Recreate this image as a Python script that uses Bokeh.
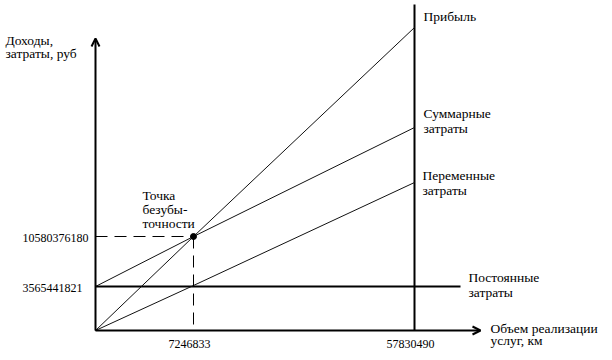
from bokeh.plotting import figure
from bokeh.models import Range1d, Arrow, OpenHead
from bokeh.core.properties import value
from bokeh.embed import file_html
from bokeh.resources import INLINE

# ---- values printed on the diagram ----
volume_values = [7246833, 57830490]        # объем реализации, км
cost_values = [3565441821, 10580376180]    # руб

# ---- schematic (not to scale) diagram values, diagram units ----
volume_pos = [98, 319]           # break-even volume, max volume
cost_pos = [44, 94]              # fixed costs, break-even revenue
line_x = [0, 98, 319]
revenue = [0, 94, 303]           # Прибыль (доходы)
total_costs = [44, 94, 203]      # Суммарные затраты
variable_costs = [0, 45, 148]    # Переменные затраты
fixed_costs = 44                 # Постоянные затраты
fixed_end = 365
axis_x_end = 385
axis_y_end = 292
vline_top = 326

FONT = "Liberation Serif"
WORD_SIZE = "13.5px"

p = figure(width=612, height=360, output_backend="svg", toolbar_location=None,
           x_range=Range1d(-95, 517), y_range=Range1d(-30, 330),
           x_axis_location=None, y_axis_location=None,
           min_border_left=0, min_border_right=0, min_border_top=0, min_border_bottom=0)
p.outline_line_color = None
p.grid.visible = False
p.background_fill_color = "white"
p.border_fill_color = "white"

# axes with arrow heads
for xs, ys, xe, ye in [(0, 0, axis_x_end, 0), (0, 0, 0, axis_y_end)]:
    p.add_layout(Arrow(end=OpenHead(size=8, line_width=2, line_color="black"),
                       x_start=xs, y_start=ys, x_end=xe, y_end=ye,
                       line_width=2, line_color="black"))

# thick lines: fixed costs and max volume
p.segment(x0=[0], y0=[fixed_costs], x1=[fixed_end], y1=[fixed_costs], line_width=2, line_color="black")
p.segment(x0=[volume_pos[1]], y0=[0], x1=[volume_pos[1]], y1=[vline_top], line_width=2, line_color="black")

# thin lines
p.line(line_x, revenue, line_width=1, line_color="#111111")
p.line(line_x, total_costs, line_width=1, line_color="#111111")
p.line(line_x, variable_costs, line_width=1, line_color="#111111")

# break-even dashed guides and point
p.segment(x0=[0, volume_pos[0]], y0=[cost_pos[1], cost_pos[1]],
          x1=[volume_pos[0], volume_pos[0]], y1=[cost_pos[1], 0],
          line_width=1, line_color="black", line_dash="12 7")
p.scatter([volume_pos[0]], [cost_pos[1]], size=6, color="black")

# tick labels
p.text(x=[-73] * len(cost_pos), y=cost_pos, text=[str(v) for v in cost_values],
       text_font=value(FONT), text_font_size="12px", text_align="left", text_baseline="middle",
       y_offset=1)
p.text(x=volume_pos, y=[-13] * len(volume_pos), text=[str(v) for v in volume_values],
       text_font=value(FONT), text_font_size="12px", text_align="center", text_baseline="middle",
       x_offset=-4)

def add_text(lines, x, y, step=15, size=WORD_SIZE):
    p.text(x=[x] * len(lines), y=[y - i * step for i in range(len(lines))], text=lines,
           text_font=value(FONT), text_font_size=size, text_baseline="middle", text_align="left")

add_text(["Доходы,", "затраты, руб"], -90, 290, step=13)
add_text(["Прибыль"], 328, 314)
add_text(["Суммарные", "затраты"], 328, 217)
add_text(["Переменные", "затраты"], 327, 155)
add_text(["Постоянные", "затраты"], 373, 53)
add_text(["Объем реализации", "услуг, км"], 395, 2, step=12)
add_text(["Точка", "безубы-", "точности"], 47, 135, step=14)

open("out.html", "w").write(file_html(p, INLINE))
